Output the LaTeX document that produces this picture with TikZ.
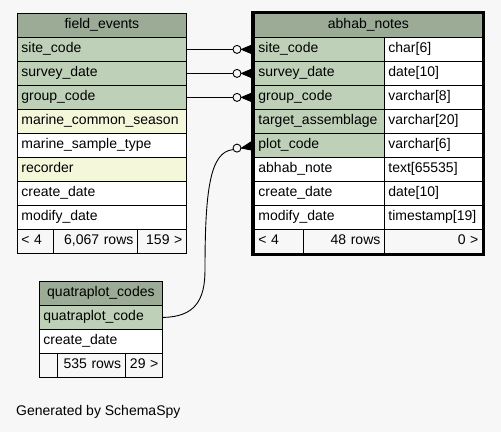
\documentclass[tikz,border=0pt]{standalone}
\usepackage{fontspec}
\setmainfont{Liberation Sans}
\definecolor{bgc}{HTML}{F7F7F7}
\definecolor{hdr}{HTML}{9BAB96}
\definecolor{keyc}{HTML}{BED1B8}
\definecolor{idxc}{HTML}{F4F7DA}
\tikzset{
  cell/.style={draw=black, line width=0.8pt, rectangle, anchor=north west,
    inner xsep=4pt, inner ysep=0pt, text height=10pt, text depth=3pt,
    font=\fontsize{14pt}{16pt}\selectfont},
  hdrcell/.style={cell, fill=hdr, align=center},
  keycell/.style={cell, fill=keyc, align=left},
  idxcell/.style={cell, fill=idxc, align=left},
  plaincell/.style={cell, fill=white, align=left},
  footl/.style={cell, fill=bgc, align=left},
  footr/.style={cell, fill=bgc, align=right},
  conn/.style={draw=black, line width=0.9pt},
  odot/.style={circle, draw=black, line width=0.9pt, fill=bgc, minimum size=8pt, inner sep=0pt},
  crow/.style={draw=black, fill=black, line width=0.9pt, line join=miter},
  focus/.style={draw=black, line width=3pt}
}
\newcommand{\cel}[7]{\node[#1, text width={#5pt-8pt}, minimum height=#6pt] (#2) at (#3,#4) {#7};}
\begin{document}
\begin{tikzpicture}[x=1pt,y=-1pt]
\fill[bgc] (0,0) rectangle (501,432);
\useasboundingbox (0,0) rectangle (501,432);

% field_events
\cel{hdrcell}{fe-h}{17}{13}{169}{24}{field\_events}
\cel{keycell}{fe-site}{17}{37}{169}{24}{site\_code}
\cel{keycell}{fe-survey}{17}{61}{169}{24}{survey\_date}
\cel{keycell}{fe-group}{17}{85}{169}{24}{group\_code}
\cel{idxcell}{fe-season}{17}{109}{169}{24}{marine\_common\_season}
\cel{plaincell}{fe-type}{17}{133}{169}{24}{marine\_sample\_type}
\cel{idxcell}{fe-rec}{17}{157}{169}{24}{recorder}
\cel{plaincell}{fe-cd}{17}{181}{169}{24}{create\_date}
\cel{plaincell}{fe-md}{17}{205}{169}{24}{modify\_date}
\cel{footl}{fe-f1}{17}{229}{36}{24}{< 4}
\cel{footr}{fe-f2}{53}{229}{84}{24}{6,067 rows}
\cel{footr}{fe-f3}{137}{229}{49}{24}{159 >}

% abhab_notes
\cel{hdrcell}{an-h}{254}{13}{228}{24}{abhab\_notes}
\cel{keycell}{an-site}{254}{37}{130}{24}{site\_code}
\cel{plaincell}{an-site-t}{384}{37}{98}{24}{char[6]}
\cel{keycell}{an-survey}{254}{61}{130}{24}{survey\_date}
\cel{plaincell}{an-survey-t}{384}{61}{98}{24}{date[10]}
\cel{keycell}{an-group}{254}{85}{130}{24}{group\_code}
\cel{plaincell}{an-group-t}{384}{85}{98}{24}{varchar[8]}
\cel{keycell}{an-target}{254}{109}{130}{24}{target\_assemblage}
\cel{plaincell}{an-target-t}{384}{109}{98}{24}{varchar[20]}
\cel{keycell}{an-plot}{254}{133}{130}{24}{plot\_code}
\cel{plaincell}{an-plot-t}{384}{133}{98}{24}{varchar[6]}
\cel{plaincell}{an-note}{254}{157}{130}{24}{abhab\_note}
\cel{plaincell}{an-note-t}{384}{157}{98}{24}{text[65535]}
\cel{plaincell}{an-cd}{254}{181}{130}{24}{create\_date}
\cel{plaincell}{an-cd-t}{384}{181}{98}{24}{date[10]}
\cel{plaincell}{an-md}{254}{205}{130}{24}{modify\_date}
\cel{plaincell}{an-md-t}{384}{205}{98}{24}{timestamp[19]}
\cel{footl}{an-f1}{254}{229}{48.7}{24}{< 4}
\cel{footr}{an-f2}{302.7}{229}{81.3}{24}{48 rows}
\cel{footr}{an-f3}{384}{229}{98}{24}{0 >}
\draw[focus] (252.5,12.5) rectangle (483.5,254);

% quatraplot_codes
\cel{hdrcell}{qc-h}{39}{281}{123}{24}{quatraplot\_codes}
\cel{keycell}{qc-code}{39}{305}{123}{24}{quatraplot\_code}
\cel{plaincell}{qc-cd}{39}{329}{123}{24}{create\_date}
\cel{footl}{qc-f1}{39}{353}{17.7}{24}{}
\cel{footr}{qc-f2}{56.7}{353}{68}{24}{535 rows}
\cel{footr}{qc-f3}{124.7}{353}{37.3}{24}{29 >}

% connectors
\node[odot] (o1) at ([xshift=-17pt]an-site.west) {};
\node[odot] (o2) at ([xshift=-17pt]an-survey.west) {};
\node[odot] (o3) at ([xshift=-17pt]an-group.west) {};
\node[odot] (o4) at ([xshift=-17pt,yshift=-2.7pt]an-plot.west) {};
\draw[conn] (fe-site.east) -- (o1.west);
\draw[conn] (fe-survey.east) -- (o2.west);
\draw[conn] (fe-group.east) -- (o3.west);
\draw[conn] (qc-code.east) .. controls (195,317) and (205,300) .. (205,270)
  .. controls (205,190) and (210,152) .. (o4.200);
\foreach \o/\r in {o1/an-site, o2/an-survey, o3/an-group}{
  \draw[crow] (\o.east) -- ([xshift=-3pt,yshift=4pt]\r.west) -- ([xshift=-3pt,yshift=-4pt]\r.west) -- cycle;
}
\draw[crow] (o4.east) -- ([xshift=-3pt,yshift=3.5pt]an-plot.west) -- ([xshift=-3pt,yshift=-4.5pt]an-plot.west) -- cycle;

\node[anchor=west, inner sep=0pt, font=\fontsize{14pt}{16pt}\selectfont] (gen) at (16,411.5) {Generated by SchemaSpy};
\end{tikzpicture}
\end{document}
